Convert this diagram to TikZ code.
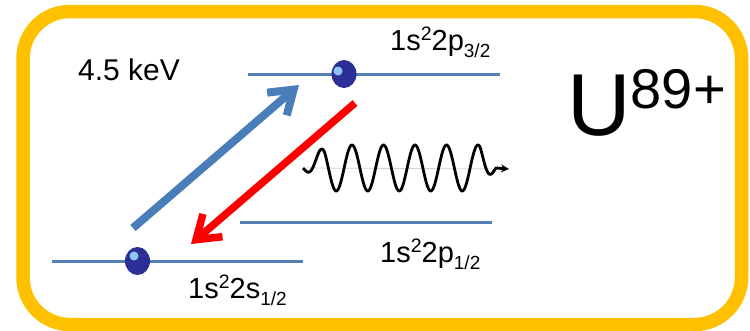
\documentclass[tikz,border=0pt]{standalone}
\usepackage{fontspec}
\setmainfont{Liberation Sans}
\usetikzlibrary{arrows.meta,shapes.geometric}
\definecolor{frameyellow}{HTML}{FFC000}
\definecolor{levelblue}{HTML}{5680B5}
\definecolor{arrowblue}{HTML}{4A7EBB}
\definecolor{elnavy}{HTML}{2B2F96}
\definecolor{ellight}{HTML}{8CC8F2}
\newcommand{\lvlsup}[1]{\raisebox{10pt}{\fontsize{19.5}{19.5}\selectfont #1}}
\newcommand{\lvlsub}[1]{\raisebox{-7pt}{\fontsize{19}{19}\selectfont #1}}
\begin{document}
\begin{tikzpicture}[x=1pt,y=-1pt,
  frame/.style={draw=frameyellow,line width=13.5pt,rounded corners=47pt},
  level/.style={draw=levelblue,line width=3pt},
  electron/.style={ellipse,fill=elnavy,minimum width=25pt,minimum height=28pt,inner sep=0pt},
  edot/.style={circle,fill=ellight,minimum size=9pt,inner sep=0pt},
  excite/.style={draw=arrowblue,line width=8pt,-{Straight Barb[length=22pt,width=30pt]}},
  decay/.style={draw=red,line width=7.5pt,-{Straight Barb[length=22pt,width=30pt]}},
  wave/.style={draw=black,line width=2.8pt,-{Stealth[length=8pt,width=8pt]}},
  lbl/.style={inner sep=0pt,anchor=base west,font=\fontsize{29}{34}\selectfont},
]
\useasboundingbox (0,0) rectangle (750,330);
\draw[frame] (23,11.5) rectangle (741.5,324.5);

% levels
\coordinate (t1) at (248,74);  \coordinate (t2) at (500,74);
\coordinate (m1) at (240,222); \coordinate (m2) at (492,222);
\coordinate (b1) at (52,261);  \coordinate (b2) at (303,261);
\draw[level] (t1) -- (t2);
\draw[level] (m1) -- (m2);
\draw[level] (b1) -- (b2);

% electrons
\node[electron] (eup) at (344,74) {};
\node[edot] (eupdot) at (338,71) {};
\node[electron] (elow) at (137.5,261) {};
\node[edot] (elowdot) at (134,256) {};

% transitions
\coordinate (ba) at (133,228); \coordinate (bb) at (299,85);
\draw[excite] (ba) -- (bb);
\coordinate (ra) at (355,103); \coordinate (rb) at (191,244);
\draw[decay] (ra) -- (rb);

% photon
\coordinate (w0) at (303,168); \coordinate (wend) at (509,169);
\draw[gray!35,line width=0.8pt] (w0) -- (wend);
\draw[wave] plot[domain=303:496,samples=300] (\x,{168-23*cos(11.4286*(\x-352))*min(1,(\x-303)/22)*min(1,max(0,(496-\x)/16))}) -- (wend);

% labels
\node[lbl,font=\fontsize{30}{36}\selectfont] (kev) at (78,80) {4.5 keV};
\node[lbl] (lp32) at (390,50) {1s\lvlsup{2}2p\lvlsub{3/2}};
\node[lbl] (lp12) at (380,262) {1s\lvlsup{2}2p\lvlsub{1/2}};
\node[lbl] (ls12) at (188,298) {1s\lvlsup{2}2s\lvlsub{1/2}};
\node[inner sep=0pt,anchor=base west,font=\fontsize{88}{90}\selectfont] (ion) at (567,135) {U\raisebox{27pt}{\fontsize{56}{56}\selectfont 89+}};
\end{tikzpicture}
\end{document}
